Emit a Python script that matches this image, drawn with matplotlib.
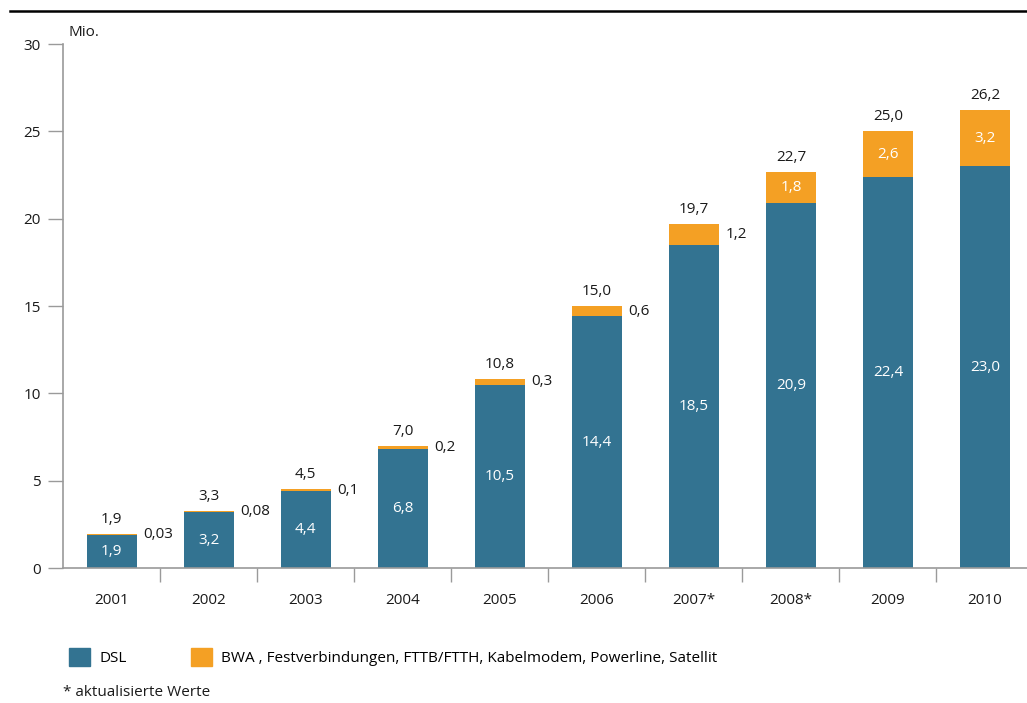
import numpy as np
import matplotlib.pyplot as plt
from matplotlib.lines import Line2D
from matplotlib.patches import Patch

plt.rcParams['font.family'] = ['Open Sans', 'DejaVu Sans']
plt.rcParams['font.size'] = 11

years = ["2001", "2002", "2003", "2004", "2005", "2006", "2007*", "2008*", "2009", "2010"]
dsl = [1.9, 3.2, 4.4, 6.8, 10.5, 14.4, 18.5, 20.9, 22.4, 23.0]
other = [0.03, 0.08, 0.1, 0.2, 0.3, 0.6, 1.2, 1.8, 2.6, 3.2]
dsl_lbl = ["1,9", "3,2", "4,4", "6,8", "10,5", "14,4", "18,5", "20,9", "22,4", "23,0"]
other_lbl = ["0,03", "0,08", "0,1", "0,2", "0,3", "0,6", "1,2", "1,8", "2,6", "3,2"]
total_lbl = ["1,9", "3,3", "4,5", "7,0", "10,8", "15,0", "19,7", "22,7", "25,0", "26,2"]

blue = "#337391"
orange = "#F4A024"
grey = "#9a9a9a"
txt = "#1a1a1a"

fig = plt.figure(figsize=(10.27, 7.03), dpi=100)
ax = fig.add_axes([63/1027, 1-568/703, 1-63/1027, (568-44)/703])

x = np.arange(len(years))
w = 0.515
ax.bar(x, dsl, w, color=blue, linewidth=0)
ax.bar(x, other, w, bottom=dsl, color=orange, linewidth=0)

for i in range(len(years)):
    ax.text(x[i], dsl[i]/2, dsl_lbl[i], ha="center", va="center", color="white")
    ax.annotate(total_lbl[i], (x[i], dsl[i]+other[i]), xytext=(0, 5), textcoords="offset points",
                ha="center", va="bottom", color=txt)
    if other[i] >= 1.5:
        ax.text(x[i], dsl[i]+other[i]/2, other_lbl[i], ha="center", va="center", color="white")
    else:
        ax.annotate(other_lbl[i], (x[i]+w/2, dsl[i]+other[i]/2), xytext=(5, 0), textcoords="offset points",
                    ha="left", va="center", color=txt)

ax.set_xlim(-0.5, 9.433)
ax.set_ylim(0, 30)
ax.set_yticks(np.arange(0, 31, 5))
ax.set_xticks(x)
ax.set_xticklabels(years)
ax.set_xticks(x[:-1]+0.5, minor=True)
ax.tick_params(axis="x", which="major", length=0, pad=18, labelcolor=txt)
ax.tick_params(axis="x", which="minor", length=10, color=grey, width=1)
ax.tick_params(axis="y", length=11, color=grey, width=1, pad=5, labelcolor=txt)
for s in ["top", "right"]:
    ax.spines[s].set_visible(False)
for s in ["left", "bottom"]:
    ax.spines[s].set_color(grey)
    ax.spines[s].set_linewidth(1.2)

fig.text(68/1027, 1-32/703, "Mio.", ha="left", va="center", color=txt)

# top rule
fig.add_artist(Line2D([10/1027, 1], [1-11/703, 1-11/703], color="black", linewidth=1.8))

# legend
handles = [Patch(color=blue, label="DSL"),
           Patch(color=orange, label="BWA , Festverbindungen, FTTB/FTTH, Kabelmodem, Powerline, Satellit")]
fig.legend(handles=handles, loc="center left", bbox_to_anchor=(55/1027, 1-657/703), ncol=2, frameon=False,
           handlelength=1.4, handleheight=1.4, columnspacing=4.2, handletextpad=0.6)

fig.text(63/1027, 1-693/703, "* aktualisierte Werte", ha="left", va="center", color=txt)

plt.savefig("out.png", dpi=100)
